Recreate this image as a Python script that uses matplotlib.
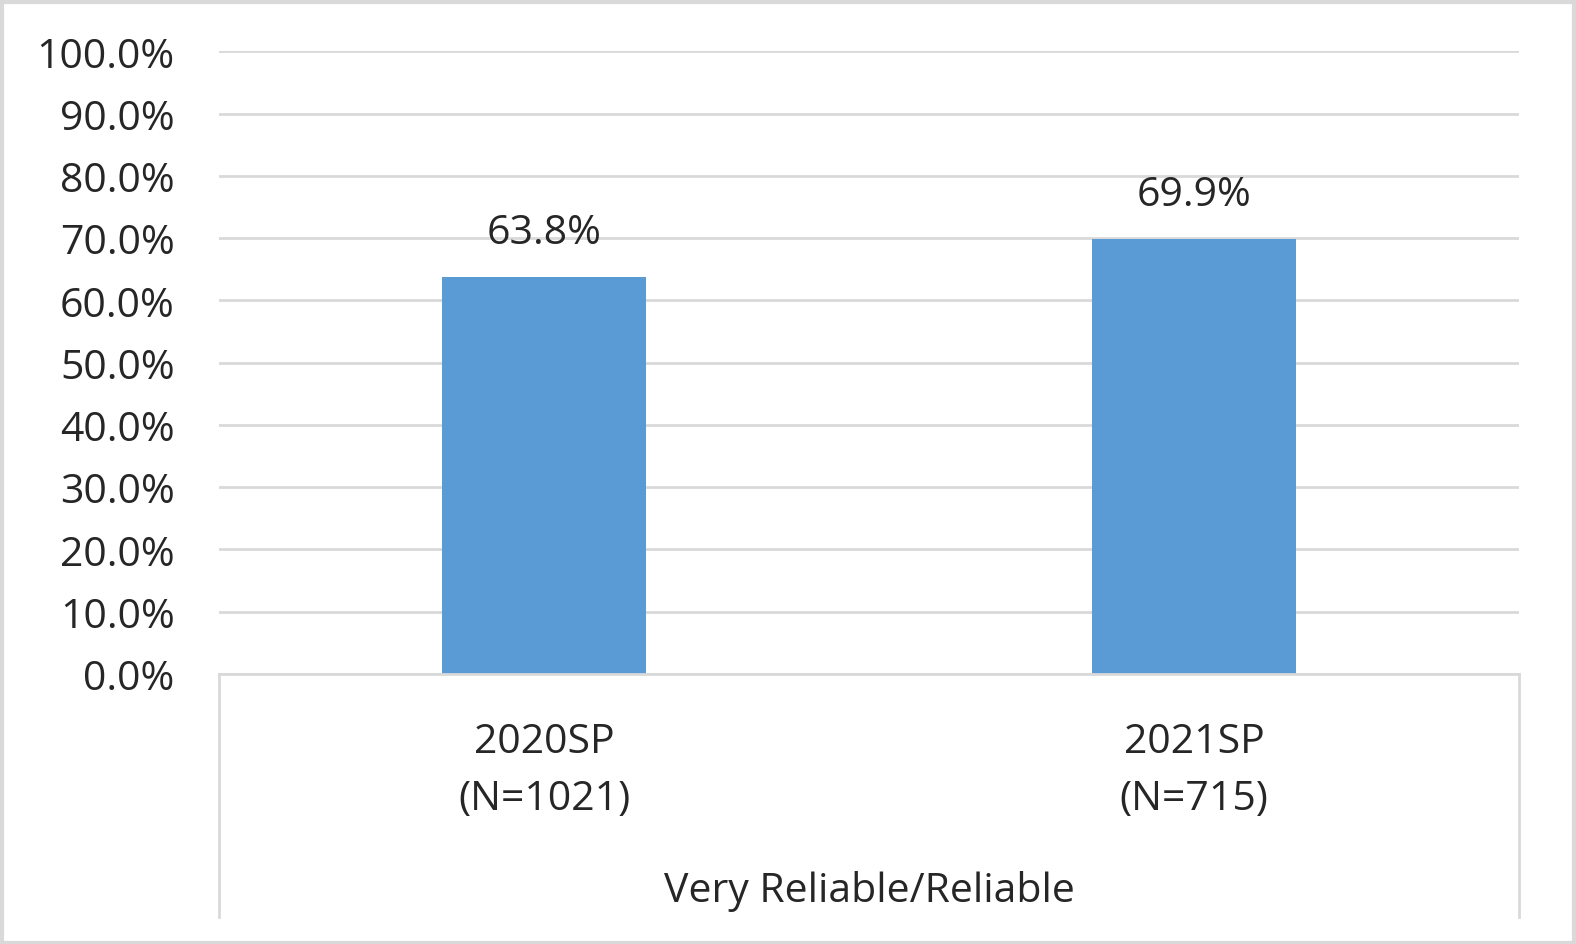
import matplotlib
matplotlib.use("Agg")
import matplotlib.pyplot as plt
from matplotlib.lines import Line2D
from matplotlib.patches import Rectangle
from matplotlib.ticker import PercentFormatter

plt.rcParams["font.family"] = ["Open Sans", "DejaVu Sans"]

terms = ["2020SP", "2021SP"]
sample_sizes = [1021, 715]
group_label = "Very Reliable/Reliable"
values = [63.8, 69.9]
yticks = [0, 10, 20, 30, 40, 50, 60, 70, 80, 90, 100]

BAR = "#5B9BD5"
GRID = "#D9D9D9"
TXT = "#262626"
FS = 29.5

W, H = 1576, 945
fig = plt.figure(figsize=(W / 100, H / 100), dpi=100)
ax = fig.add_axes([219 / W, 1 - 675 / H, 1300 / W, (675 - 52.3) / H])

x = list(range(len(values)))
ax.bar(x, values, width=0.315, color=BAR, zorder=3)
for xi, v in zip(x, values):
    ax.annotate(f"{v:.1f}%", (xi, v), xytext=(0, 32), textcoords="offset points",
                ha="center", va="center", fontsize=FS, color=TXT)

ax.set_xlim(-0.5, len(values) - 0.5)
ax.set_ylim(0, 100)
ax.set_yticks(yticks)
ax.yaxis.set_major_formatter(PercentFormatter(decimals=1))
ax.tick_params(axis="y", length=0, pad=32, labelsize=FS, labelcolor=TXT)
ax.set_xticks([])
ax.grid(axis="y", color=GRID, lw=2, zorder=0)
for s in ax.spines.values():
    s.set_visible(False)

# category labels and group label below the axis
for xi, t, n in zip(x, terms, sample_sizes):
    ax.annotate(t, (xi, 0), xytext=(0, -49), textcoords="offset points",
                ha="center", va="center", fontsize=FS, color=TXT)
    ax.annotate(f"(N={n})", (xi, 0), xytext=(0, -90), textcoords="offset points",
                ha="center", va="center", fontsize=FS, color=TXT)
ax.annotate(group_label, (sum(x) / len(x), 0), xytext=(0, -156), textcoords="offset points",
            ha="center", va="center", fontsize=FS, color=TXT)

# separators in the multi-level axis
for xs in (219, 1519):
    fig.add_artist(Line2D([xs / W, xs / W], [1 - 675 / H, 1 - 918 / H],
                          transform=fig.transFigure, color=GRID, lw=2))
fig.add_artist(Line2D([219 / W, 1519 / W], [1 - 675 / H, 1 - 675 / H],
                      transform=fig.transFigure, color=GRID, lw=2))

fig.add_artist(Rectangle((1.5 / W, 1.5 / H), 1 - 4 / W, 1 - 4 / H, transform=fig.transFigure,
                         fill=False, edgecolor=GRID, lw=3))

fig.savefig("out.png", dpi=100, facecolor="white")
